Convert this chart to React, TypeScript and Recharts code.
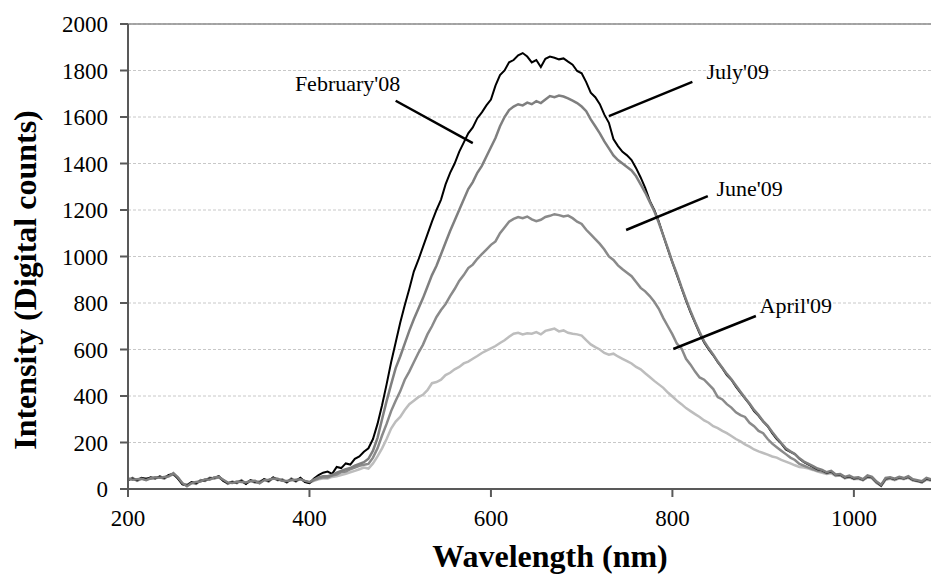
import { CartesianGrid, Line, LineChart, ReferenceDot, ReferenceLine, XAxis, YAxis } from "recharts";

// wavelength grid, nm
const wavelengths = [
  200, 205, 210, 215, 220, 225, 230, 235, 240, 245,
  250, 255, 260, 265, 270, 275, 280, 285, 290, 295,
  300, 305, 310, 315, 320, 325, 330, 335, 340, 345,
  350, 355, 360, 365, 370, 375, 380, 385, 390, 395,
  400, 405, 410, 415, 420, 425, 430, 435, 440, 445,
  450, 455, 460, 465, 470, 475, 480, 485, 490, 495,
  500, 505, 510, 515, 520, 525, 530, 535, 540, 545,
  550, 555, 560, 565, 570, 575, 580, 585, 590, 595,
  600, 605, 610, 615, 620, 625, 630, 635, 640, 645,
  650, 655, 660, 665, 670, 675, 680, 685, 690, 695,
  700, 705, 710, 715, 720, 725, 730, 735, 740, 745,
  750, 755, 760, 765, 770, 775, 780, 785, 790, 795,
  800, 805, 810, 815, 820, 825, 830, 835, 840, 845,
  850, 855, 860, 865, 870, 875, 880, 885, 890, 895,
  900, 905, 910, 915, 920, 925, 930, 935, 940, 945,
  950, 955, 960, 965, 970, 975, 980, 985, 990, 995,
  1000, 1005, 1010, 1015, 1020, 1025, 1030, 1035, 1040, 1045,
  1050, 1055, 1060, 1065, 1070, 1075, 1080, 1085,
];

const feb08 = [
  40, 45, 38, 48, 42, 50, 45, 55, 48, 60,
  65, 45, 20, 15, 30, 25, 35, 38, 45, 48,
  55, 35, 25, 30, 28, 35, 22, 38, 30, 28,
  42, 35, 50, 40, 38, 30, 42, 35, 48, 30,
  25,
  45, 60, 70, 75, 65, 95, 90, 110, 105, 130,
  140, 160, 175, 215, 280, 360, 450, 545, 630, 715,
  790, 860, 935, 985, 1040, 1095, 1150, 1200, 1245, 1310,
  1360, 1400, 1450, 1490, 1530, 1555, 1595, 1620, 1650, 1675,
  1735, 1780, 1800, 1835, 1845, 1865, 1875, 1860, 1835, 1845,
  1815, 1850, 1860, 1855, 1848, 1852, 1838, 1825, 1798, 1788,
  1750, 1705, 1685, 1655, 1610, 1575, 1505, 1475, 1450, 1435,
  1415, 1380, 1340, 1295, 1240, 1200, 1150, 1090, 1030, 975,
  920, 865, 810, 760, 715, 670, 630, 600, 575, 545,
  520, 490, 470, 440, 415, 390, 365, 335, 315, 290,
  270, 240, 215, 195, 170, 160, 150, 130, 115, 105,
  95, 85,
  80, 70, 75, 60, 62, 50, 55, 45, 48, 40,
  55, 50, 30, 15, 45, 48, 42, 50, 45, 52,
  40, 35, 30, 45, 40,
];

const jul09 = [
  45, 40, 42, 44, 38, 46, 50, 48, 52, 55,
  68, 50, 25, 12, 25, 30, 32, 42, 40, 50,
  52, 40, 28, 26, 32, 30, 28, 34, 35, 25,
  38, 40, 45, 44, 35, 34, 38, 40, 42, 35,
  30,
  40, 50, 55, 55, 60, 70, 78, 85, 90, 100,
  108, 115, 130, 165, 220, 300, 378, 450, 520, 570,
  625, 680, 730, 775, 820, 870, 920, 960, 1010, 1060,
  1110, 1155, 1200, 1245, 1290, 1320, 1360, 1390, 1430, 1470,
  1510, 1560, 1600, 1630, 1645, 1655, 1650, 1662, 1655, 1668,
  1660, 1675, 1690, 1685, 1692, 1688, 1680, 1670, 1660, 1645,
  1625, 1590, 1560, 1530, 1495, 1465, 1435, 1415, 1400, 1385,
  1370, 1345, 1310, 1275, 1235, 1195, 1145, 1090, 1035, 975,
  925, 868, 815, 765, 718, 675, 635, 605, 578, 548,
  522, 495, 472, 445, 418, 392, 368, 340, 318, 292,
  272, 245, 220, 198, 175, 162, 150, 132, 118, 108,
  98, 88,
  82, 72, 78, 62, 64, 52, 58, 48, 50, 42,
  58, 52, 32, 18, 48, 50, 44, 52, 47, 55,
  42, 38, 33, 48, 42,
];

const jun09 = [
  38, 48, 35, 45, 46, 44, 48, 50, 45, 58,
  62, 48, 22, 18, 28, 22, 38, 35, 48, 45,
  50, 38, 22, 32, 25, 38, 25, 35, 28, 32,
  40, 32, 48, 38, 42, 28, 45, 32, 45, 32,
  28,
  38, 45, 50, 50, 58, 62, 72, 75, 85, 92,
  100, 104, 108, 135, 175, 230, 280, 335, 380, 420,
  470, 505, 545, 585, 620, 665, 700, 740, 770, 795,
  830, 860, 895, 920, 950, 965, 990, 1010, 1030, 1050,
  1065, 1100, 1125, 1150, 1162, 1170, 1165, 1172, 1160, 1152,
  1158, 1170, 1175, 1182, 1178, 1172, 1176, 1165, 1150, 1140,
  1115, 1095, 1075, 1054, 1030, 1000, 985, 962, 945, 930,
  915, 890, 865, 850, 830, 805, 775, 735, 700, 665,
  625, 605, 560, 535, 505, 480, 470, 450, 430, 395,
  385, 365, 350, 330, 318, 310, 285, 270, 250, 240,
  215, 195, 180, 165, 150, 135, 125, 108, 100, 92,
  85, 78,
  75, 68, 72, 58, 60, 48, 52, 44, 46, 38,
  52, 48, 28, 14, 42, 46, 40, 48, 44, 50,
  38, 34, 28, 42, 38,
];

const apr09 = [
  42, 44, 40, 46, 40, 48, 44, 52, 50, 56,
  64, 46, 24, 16, 26, 28, 34, 40, 44, 46,
  54, 36, 26, 28, 30, 34, 24, 36, 32, 26,
  40, 36, 46, 42, 36, 32, 40, 38, 44, 34,
  27,
  35, 42, 45, 45, 52, 55, 60, 65, 72, 78,
  85, 92, 88, 110, 140, 175, 215, 260, 290, 310,
  340, 365, 380, 395, 405, 425, 455, 460, 470, 490,
  500, 515, 525, 540, 548, 560, 572, 585, 595, 605,
  615, 628, 640, 655, 668, 672, 665, 670, 668, 675,
  665, 680, 685, 690, 678, 682, 672, 668, 665, 660,
  640, 622, 610, 600, 585, 578, 582, 570, 560, 550,
  540, 525, 515, 498, 482, 465, 450, 435, 415, 398,
  380, 365, 348, 335, 322, 310, 295, 285, 270, 262,
  250, 240, 228, 215, 205, 192, 182, 170, 162, 155,
  148, 140, 135, 125, 118, 110, 102, 95, 92, 88,
  82, 75,
  70, 65, 68, 56, 58, 46, 50, 42, 44, 38,
  50, 46, 26, 15, 40, 44, 38, 46, 42, 48,
  36, 33, 28, 40, 36,
];

const yTicks = [0, 200, 400, 600, 800, 1000, 1200, 1400, 1600, 1800, 2000];
const xTicks = [200, 400, 600, 800, 1000];

// callout text and leader lines, in data units
const callouts = [
  { label: "February'08", tx: 442, ty: 1746, x1: 495, y1: 1670, x2: 580, y2: 1488 },
  { label: "July'09", tx: 872, ty: 1798, x1: 822, y1: 1751, x2: 730, y2: 1604 },
  { label: "June'09", tx: 885, ty: 1295, x1: 839, y1: 1260, x2: 749, y2: 1114 },
  { label: "April'09", tx: 936, ty: 791, x1: 892, y1: 744, x2: 801, y2: 602 },
];

const rows = wavelengths.map((w, i) => ({
  w,
  feb08: feb08[i],
  jul09: jul09[i],
  jun09: jun09[i],
  apr09: apr09[i],
}));

const serif = "'Liberation Serif', 'Times New Roman', serif";
const axisStroke = { stroke: "#595959", strokeWidth: 2 };
const tickFont = { fill: "#000", fontSize: 23, fontFamily: serif, style: { fontFamily: serif } };

export default function App() {
  return (
    <div
      style={{
        position: "absolute",
        left: 0,
        top: 0,
        width: 931,
        height: 574,
        background: "#fff",
        fontFamily: serif,
      }}
    >
      <LineChart
        width={931}
        height={574}
        data={rows}
        margin={{ top: 24, right: 0, bottom: 0, left: 0 }}
        style={{ fontFamily: serif }}
      >
        <CartesianGrid horizontal vertical={false} stroke="#c8c8c8" strokeDasharray="3 2" />
        <XAxis
          dataKey="w"
          type="number"
          domain={[200, 1085]}
          ticks={xTicks}
          height={85}
          tickSize={8}
          tickMargin={13}
          axisLine={axisStroke}
          tickLine={axisStroke}
          tick={tickFont}
        />
        <YAxis
          type="number"
          domain={[0, 2000]}
          ticks={yTicks}
          width={128}
          tickSize={8}
          tickMargin={12}
          axisLine={axisStroke}
          tickLine={axisStroke}
          tick={tickFont}
        />
        <ReferenceLine y={2000} stroke="#8c8c8c" strokeWidth={1.5} />
        <Line dataKey="apr09" stroke="#bdbdbd" strokeWidth={2.5} dot={false} isAnimationActive={false} />
        <Line dataKey="jun09" stroke="#8a8a8a" strokeWidth={2.5} dot={false} isAnimationActive={false} />
        <Line dataKey="feb08" stroke="#000" strokeWidth={2} dot={false} isAnimationActive={false} />
        <Line dataKey="jul09" stroke="#7f7f7f" strokeWidth={2.5} dot={false} isAnimationActive={false} />
        {callouts.map((c) => (
          <ReferenceLine
            key={c.label + "-line"}
            segment={[
              { x: c.x1, y: c.y1 },
              { x: c.x2, y: c.y2 },
            ]}
            stroke="#000"
            strokeWidth={2.5}
          />
        ))}
        {callouts.map((c) => (
          <ReferenceDot
            key={c.label}
            x={c.tx}
            y={c.ty}
            r={1}
            fill="none"
            stroke="none"
            label={{
              value: c.label,
              position: "center",
              fill: "#000",
              fontSize: 22,
              fontFamily: serif,
              style: { fontFamily: serif },
            }}
          />
        ))}
      </LineChart>
      <div
        style={{
          position: "absolute",
          left: 550,
          top: 540,
          transform: "translateX(-50%)",
          fontWeight: "bold",
          fontSize: 32,
          lineHeight: "32px",
          whiteSpace: "nowrap",
        }}
      >
        Wavelength (nm)
      </div>
      <div
        style={{
          position: "absolute",
          left: 25,
          top: 280,
          transform: "translate(-50%, -50%) rotate(-90deg)",
          fontWeight: "bold",
          fontSize: 32,
          lineHeight: "32px",
          whiteSpace: "nowrap",
        }}
      >
        Intensity (Digital counts)
      </div>
    </div>
  );
}
